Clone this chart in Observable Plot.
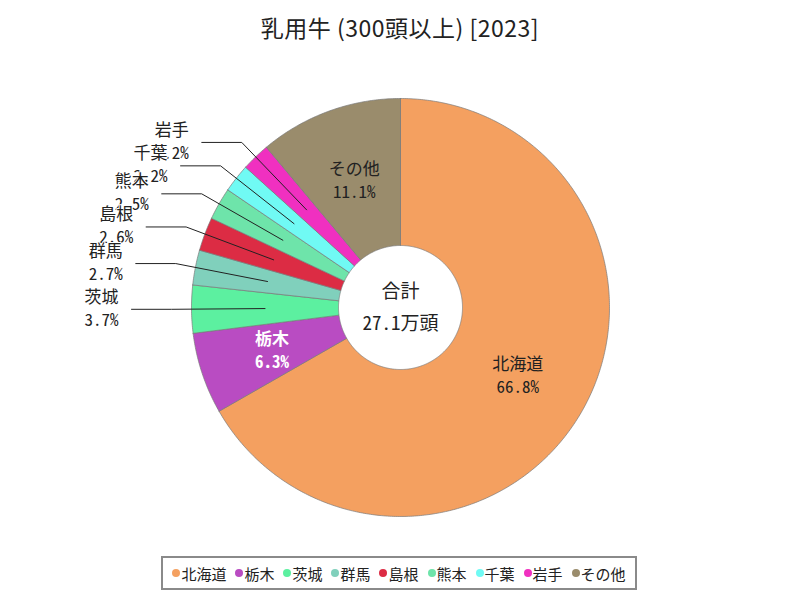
<!DOCTYPE html>
<html><head><meta charset="utf-8">
<script src="https://cdn.jsdelivr.net/npm/d3@7"></script>
<script src="https://cdn.jsdelivr.net/npm/@observablehq/plot@0.6"></script>
<style>
body{margin:0;background:#fff;font-family:"Noto Sans CJK JP",sans-serif;}
#wrap{position:relative;width:800px;height:600px;overflow:hidden;}
#chart{position:absolute;left:0;top:0;}
#title{position:absolute;top:12px;left:0;width:800px;text-align:center;font-size:23px;letter-spacing:0.5px;line-height:30px;color:#222;white-space:pre;}
#legend{position:absolute;left:161px;top:556px;width:472px;height:30px;border:2px solid #8a8a8a;display:flex;align-items:center;justify-content:center;gap:9px;font-size:15px;color:#222;}
.item{display:flex;align-items:center;white-space:nowrap;}
.dot{width:8px;height:8px;border-radius:50%;margin-right:1px;}
</style>
</head><body>
<div id="wrap"><div id="chart"></div><div id="title"></div><div id="legend"></div></div>
<script>
// ---- data ----
const names  = ["北海道","栃木","茨城","群馬","島根","熊本","千葉","岩手","その他"];
const shares = [66.8, 6.3, 3.7, 2.7, 2.6, 2.5, 2.2, 2.2, 11.1];
const colors = ["#F4A060","#B94CC2","#5CF0A0","#80D0BC","#DC2C44","#6EE4AA","#70FAF4","#F030C0","#9A8C6C"];
const titleText = "乳用牛 (300頭以上) [2023]";
const centerLines = ["合計", "27.1万頭"];

// ---- layout ----
const cx = 400, cy = 307, rOuter = 209, rInner = 62;
const rMid = (rOuter + rInner) / 2, rElbow = 229, elbowLen = 40, outsideBelow = 5;
const total = d3.sum(shares);
const pt = (r, a) => [cx + r * Math.sin(a), cy - r * Math.cos(a)];

let cum = 0;
const slices = names.map((name, i) => {
  const a0 = cum / total * 2 * Math.PI;
  cum += shares[i];
  const a1 = cum / total * 2 * Math.PI;
  const am = (a0 + a1) / 2;
  return {name, share: shares[i], color: colors[i], a0, a1, am, pct: shares[i].toFixed(1) + "%"};
});

const poly = [];
for (const s of slices) {
  const n = Math.max(2, Math.ceil((s.a1 - s.a0) / 0.01));
  const pts = [];
  for (let k = 0; k <= n; k++) pts.push(pt(rOuter, s.a0 + (s.a1 - s.a0) * k / n));
  for (let k = n; k >= 0; k--) pts.push(pt(rInner, s.a0 + (s.a1 - s.a0) * k / n));
  pts.push(pts[0]);
  for (const [x, y] of pts) poly.push({name: s.name, x, y});
}

const inside = slices.filter(s => s.share >= outsideBelow).map(s => {
  const [x, y] = pt(rMid, s.am);
  return {...s, x, y, dark: d3.lab(s.color).l < 52};
});
const outside = slices.filter(s => s.share < outsideBelow).map(s => {
  const [mx, my] = pt(rMid, s.am);
  const [ex, ey] = pt(rElbow, s.am);
  return {...s, mx, my, ex, ey, sx: ex - elbowLen};
}).reverse();
const leaders = outside.flatMap(s => [
  {name: s.name, x: s.sx, y: s.ey},
  {name: s.name, x: s.ex, y: s.ey},
  {name: s.name, x: s.mx, y: s.my}
]);
const center = centerLines.map((t, i) => ({t, i}));

const font = `"Noto Sans Mono CJK JP","Noto Sans CJK JP",sans-serif`;
const fs = 17;

const chart = Plot.plot({
  width: 800, height: 600, margin: 0,
  x: {domain: [0, 800], range: [0, 800], axis: null},
  y: {domain: [0, 600], range: [0, 600], axis: null},
  color: {domain: names, range: colors},
  style: {background: "transparent", fontFamily: font},
  marks: [
    Plot.line(poly, {x: "x", y: "y", z: "name", fill: "name", stroke: "#7a7a7a", strokeWidth: 0.7, curve: "linear"}),
    Plot.line(leaders, {x: "x", y: "y", z: "name", stroke: "#222", strokeWidth: 1, curve: "linear"}),
    Plot.text(inside.filter(d => !d.dark), {x: "x", y: "y", text: "name", dy: -11, fontSize: fs, fill: "#222", fontWeight: d => d.share > 50 ? "bold" : "normal"}),
    Plot.text(inside.filter(d => !d.dark), {x: "x", y: "y", text: "pct", dy: 12, fontSize: fs, fill: "#222", fontWeight: d => d.share > 50 ? "bold" : "normal"}),
    Plot.text(inside.filter(d => d.dark), {x: "x", y: "y", text: "name", dy: -11, fontSize: fs, fill: "white", fontWeight: "bold"}),
    Plot.text(inside.filter(d => d.dark), {x: "x", y: "y", text: "pct", dy: 12, fontSize: fs, fill: "white", fontWeight: "bold"}),
    Plot.text(outside, {x: d => d.sx - 30, y: "ey", text: "pct", dy: 11, fontSize: fs, fill: "#222", stroke: "white", strokeWidth: 2}),
    Plot.text(outside, {x: d => d.sx - 30, y: "ey", text: "name", dy: -12, fontSize: fs, fill: "#222", stroke: "white", strokeWidth: 2}),
    Plot.text(center.filter(d => d.i === 0), {x: () => cx, y: () => cy, text: "t", dy: -16, fontSize: 19, fill: "#222"}),
    Plot.text(center.filter(d => d.i === 1), {x: () => cx, y: () => cy, text: "t", dy: 16, fontSize: 19, fill: "#222"})
  ]
});
document.getElementById("chart").appendChild(chart);
document.getElementById("title").textContent = titleText;

const legend = document.getElementById("legend");
names.forEach((n, i) => {
  const it = document.createElement("div"); it.className = "item";
  const dot = document.createElement("span"); dot.className = "dot"; dot.style.background = colors[i];
  const lab = document.createElement("span"); lab.textContent = n;
  it.appendChild(dot); it.appendChild(lab); legend.appendChild(it);
});
</script>
</body></html>
